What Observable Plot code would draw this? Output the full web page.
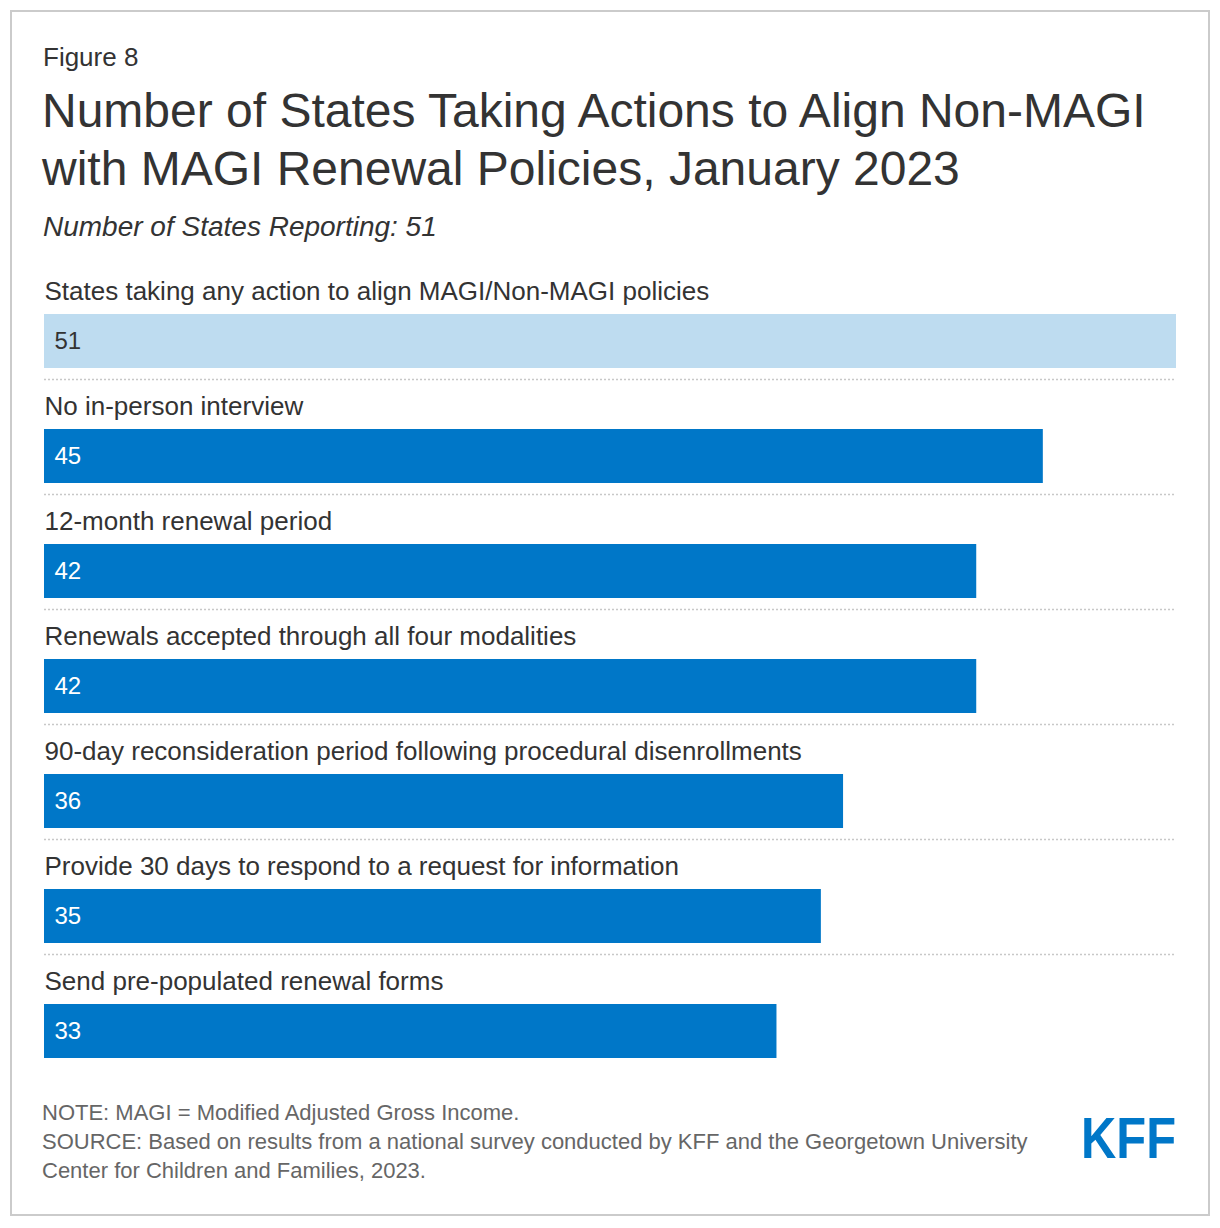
<!DOCTYPE html>
<html>
<head>
<meta charset="utf-8">
<script src="https://cdn.jsdelivr.net/npm/d3@7"></script>
<script src="https://cdn.jsdelivr.net/npm/@observablehq/plot@0.6"></script>
<style>
  html, body { margin: 0; padding: 0; background: #fff; }
  body { width: 1220px; height: 1228px; position: relative; overflow: hidden;
         font-family: "Liberation Sans", Arial, Helvetica, sans-serif; color: #333; }
  .frame { position: absolute; left: 10px; top: 10px; width: 1200px; height: 1206px;
           box-sizing: border-box; border: 2px solid #cbcbcb; }
  .fig { position: absolute; left: 43px; top: 42px; font-size: 26px; line-height: normal; }
  .title { position: absolute; left: 42px; top: 82px; font-size: 48px; line-height: 58px; white-space: nowrap; }
  .sub { position: absolute; left: 43px; top: 211px; font-size: 28px; font-style: italic; line-height: normal; }
  .note { position: absolute; left: 42px; top: 1098px; font-size: 22px; line-height: 29px; color: #666; white-space: nowrap; }
  #chart { position: absolute; left: 0; top: 264px; }
  #logo { position: absolute; left: 1081px; top: 1107px; overflow: visible; }
</style>
</head>
<body>
<div class="frame"></div>
<div class="fig">Figure 8</div>
<div class="title">Number of States Taking Actions to Align Non-MAGI<br>with MAGI Renewal Policies, January 2023</div>
<div class="sub">Number of States Reporting: 51</div>
<div id="chart"></div>
<div class="note">NOTE: MAGI = Modified Adjusted Gross Income.<br>SOURCE: Based on results from a national survey conducted by KFF and the Georgetown University<br>Center for Children and Families, 2023.</div>
<svg id="logo" width="110" height="62" viewBox="0 0 110 62">
  <text x="0" y="51" font-family="Liberation Sans Narrow, Liberation Sans, Arial" font-weight="bold" font-size="57" fill="#0077C8" textLength="95" lengthAdjust="spacingAndGlyphs">KFF</text>
</svg>
<script>
const categories = [
  "States taking any action to align MAGI/Non-MAGI policies",
  "No in-person interview",
  "12-month renewal period",
  "Renewals accepted through all four modalities",
  "90-day reconsideration period following procedural disenrollments",
  "Provide 30 days to respond to a request for information",
  "Send pre-populated renewal forms"
];
const values = [51, 45, 42, 42, 36, 35, 33];
const groups = ["total", "action", "action", "action", "action", "action", "action"];

const data = categories.map((c, i) => ({category: c, value: values[i], group: groups[i]}));

const chart = Plot.plot({
  width: 1220,
  height: 805,
  marginLeft: 44,
  marginRight: 44,
  marginTop: 0,
  marginBottom: 0,
  x: {domain: [0, 51], axis: null},
  y: {domain: categories, axis: null, padding: 0},
  color: {domain: ["total", "action"], range: ["#BEDCF0", "#0077C8"]},
  style: {fontFamily: "'Liberation Sans', Arial, Helvetica, sans-serif", background: "transparent", color: "#333", overflow: "visible"},
  marks: [
    Plot.ruleY(categories.slice(0, -1), {y: d => d, dy: 57.5, stroke: "#c8c8c8", strokeWidth: 1.5, strokeDasharray: "2,2"}),
    Plot.barX(data, {y: "category", x: "value", fill: "group", insetTop: 50, insetBottom: 11}),
    Plot.text(data, {y: "category", x: 0, text: "category", textAnchor: "start", dy: -30.5, fill: "#333", fontSize: 26}),
    Plot.text(data, {filter: d => d.group === "total", y: "category", x: 0, text: d => String(d.value), textAnchor: "start", dx: 10, dy: 19.8, fill: "#333", fontSize: 24}),
    Plot.text(data, {filter: d => d.group !== "total", y: "category", x: 0, text: d => String(d.value), textAnchor: "start", dx: 10, dy: 19.8, fill: "#fff", fontSize: 24})
  ]
});
document.getElementById("chart").appendChild(chart);
</script>
</body>
</html>
